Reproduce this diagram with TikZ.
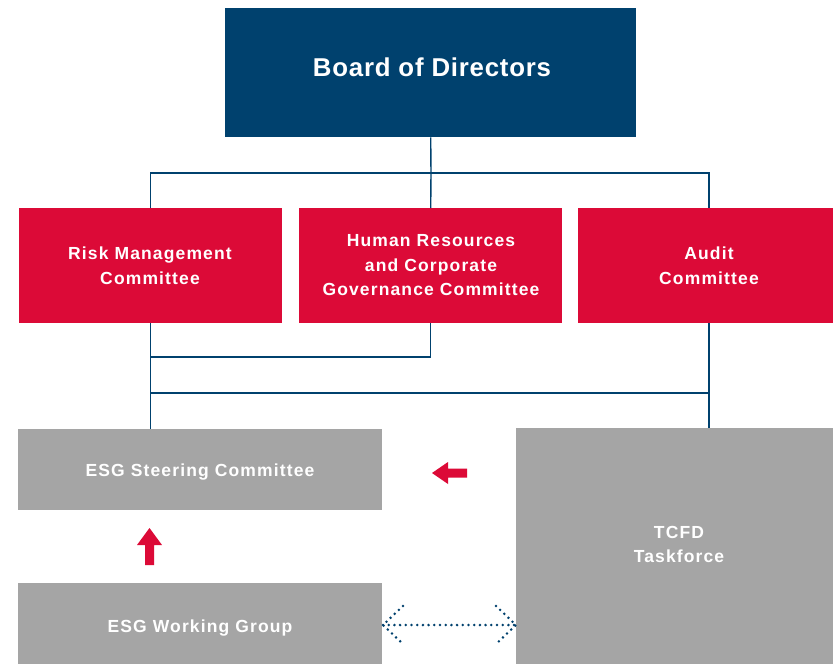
\documentclass[tikz,border=0pt]{standalone}
\usepackage{fontspec}
\setmainfont{Liberation Sans}
\newfontfamily\boxfont[LetterSpace=6.5]{Liberation Sans}
\newfontfamily\boardfont[LetterSpace=3]{Liberation Sans}
\definecolor{navy}{HTML}{00416E}
\definecolor{esgred}{HTML}{DC0A37}
\definecolor{esggrey}{HTML}{A5A5A5}
\begin{document}
\begin{tikzpicture}[x=1pt,y=-1pt,
  box/.style={anchor=north west, inner sep=0pt},
  boardbox/.style={box, fill=navy},
  redbox/.style={box, fill=esgred},
  greybox/.style={box, fill=esggrey},
  txt/.style={text=white, inner sep=0pt, align=center, font=\boxfont\bfseries\fontsize{17.5}{24.5}\selectfont},
  boardtxt/.style={txt, font=\boardfont\bfseries\fontsize{25.8}{30}\selectfont},
  conn/.style={draw=navy, line width=1.4pt},
  redarrow/.style={fill=esgred, draw=none},
  dots/.style={draw=navy, line width=2.8pt, dash pattern=on 0pt off 5.7pt, line cap=round}
]
\useasboundingbox (0,0) rectangle (833,664);
\fill[white] (0,0) rectangle (833,664);

\node[boardbox, minimum width=411pt, minimum height=129pt] (board) at (225,8) {};
\node[redbox, minimum width=263pt, minimum height=115pt] (risk) at (19,208) {};
\node[redbox, minimum width=263pt, minimum height=115pt] (hr) at (299,208) {};
\node[redbox, minimum width=255pt, minimum height=115pt] (audit) at (578,208) {};
\node[greybox, minimum width=364pt, minimum height=81pt] (steer) at (18,429) {};
\node[greybox, minimum width=317pt, minimum height=236pt] (tcfd) at (516,428) {};
\node[greybox, minimum width=364pt, minimum height=81pt] (work) at (18,583) {};

\node[boardtxt] (boardt) at (432,67) {Board of Directors};
\node[txt] (riskt) at (150,265.5) {Risk Management\\Committee};
\node[txt] (hrt) at (431,265.5) {Human Resources\\and Corporate\\Governance Committee};
\node[txt] (auditt) at (709,265.5) {Audit\\Committee};
\node[txt] (steert) at (200,472) {ESG Steering Committee};
\node[txt] (tcfdt) at (679,544.5) {TCFD\\Taskforce};
\node[txt] (workt) at (200,628) {ESG Working Group};

% top connectors
\coordinate (bus1) at (431,173);
\coordinate (auditin) at (709,208);
\coordinate (auditout) at (709,323);
\draw[conn] (board.south) -- (bus1);
\draw[conn] (risk.north) |- (bus1) -| (auditin);
\draw[conn] (bus1) -- (hr.north);

% lower connectors
\coordinate (hrjoin) at (150,357);
\coordinate (bus2l) at (150,393);
\draw[conn] (risk.south) -- (risk.south |- steer.north);
\draw[conn] (hr.south) |- (hrjoin);
\draw[conn] (bus2l) -| (auditout);
\draw[conn] (auditout) -- (auditout |- tcfd.north);

% red arrows
\fill[redarrow] (432,473) -- (448,462) -- (448,468.5) -- (467,468.5) -- (467,477.5) -- (448,477.5) -- (448,484) -- cycle;
\fill[redarrow] (149.5,528) -- (162,545) -- (154,545) -- (154,565) -- (145,565) -- (145,545) -- (137,545) -- cycle;

% dotted double arrow
\coordinate (dl) at (383,625);
\coordinate (dr) at (516,625);
\draw[dots] (dl) -- (dr);
\draw[dots] ([shift={(20,-19)}]dl) -- (dl) -- ([shift={(20,19)}]dl);
\draw[dots] ([shift={(-20,-19)}]dr) -- (dr) -- ([shift={(-20,19)}]dr);
\end{tikzpicture}
\end{document}
